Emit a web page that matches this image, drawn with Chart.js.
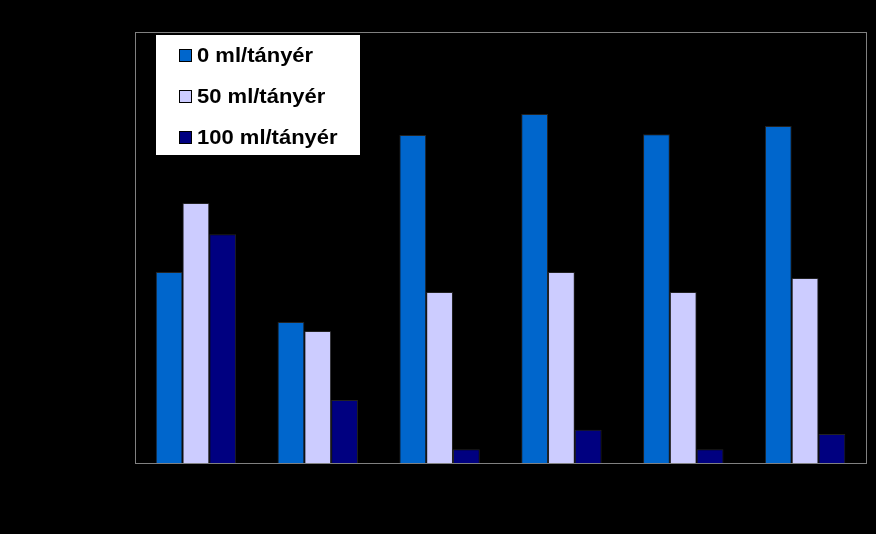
<!DOCTYPE html>
<html>
<head>
<meta charset="utf-8">
<script src="https://cdn.jsdelivr.net/npm/chart.js@4/dist/chart.umd.min.js"></script>
<style>
  html, body { margin: 0; padding: 0; background: #000; }
  #wrap { width: 876px; height: 534px; }
</style>
</head>
<body>
<div id="wrap"><canvas id="chart" width="876" height="534"></canvas></div>
<script>
// values (axis labels are black on black, so the scale is relative)
const categories = ['1', '2', '3', '4', '5', '6'];
const seriesNames = ['0 ml/tányér', '50 ml/tányér', '100 ml/tányér'];
const dose0 = [44.3, 32.7, 76.1, 81.0, 76.3, 78.2];
const dose50 = [60.3, 30.6, 39.7, 44.3, 39.7, 42.9];
const dose100 = [53.1, 14.6, 3.2, 7.7, 3.2, 6.7];
const colors = ['#0066CC', '#CCCCFF', '#000080'];

// plot frame + white legend box drawn inside the plot
const framePlugin = {
  id: 'frame',
  afterDraw(chart) {
    const ctx = chart.ctx;
    const a = chart.chartArea;
    ctx.save();
    ctx.strokeStyle = '#808080';
    ctx.lineWidth = 1;
    ctx.strokeRect(a.left + 0.5, a.top + 0.5, a.right - a.left, a.bottom - a.top);

    const bx = a.left + 20, by = a.top + 2, bw = 205, bh = 121;
    ctx.fillStyle = '#fff';
    ctx.fillRect(bx, by, bw, bh);
    ctx.strokeStyle = '#000';
    ctx.strokeRect(bx + 0.5, by + 0.5, bw, bh);

    ctx.font = 'bold 20px "Liberation Sans", Arial, sans-serif';
    ctx.textBaseline = 'middle';
    chart.data.datasets.forEach((ds, i) => {
      const y = by + 21 + i * 41;
      ctx.fillStyle = ds.backgroundColor;
      ctx.fillRect(bx + 24, y - 6, 13, 13);
      ctx.strokeStyle = '#000';
      ctx.strokeRect(bx + 24.5, y - 5.5, 12, 12);
      ctx.fillStyle = '#000';
      ctx.save();
      ctx.translate(bx + 42, y + 1);
      ctx.scale(1.1, 1);
      ctx.fillText(ds.label, 0, 0);
      ctx.restore();
    });
    ctx.restore();
  }
};

new Chart(document.getElementById('chart'), {
  type: 'bar',
  data: {
    labels: categories,
    datasets: [
      { label: seriesNames[0], data: dose0, backgroundColor: colors[0] },
      { label: seriesNames[1], data: dose50, backgroundColor: colors[1] },
      { label: seriesNames[2], data: dose100, backgroundColor: colors[2] }
    ]
  },
  options: {
    responsive: false,
    animation: false,
    layout: { padding: { left: 135, top: 32, right: 10, bottom: 71 } },
    datasets: {
      bar: { barPercentage: 1, categoryPercentage: 0.66, borderColor: '#222', borderWidth: 1 }
    },
    plugins: {
      legend: { display: false },
      tooltip: { enabled: false }
    },
    scales: {
      x: { display: false },
      y: { display: false, min: 0, max: 100 }
    }
  },
  plugins: [framePlugin]
});
</script>
</body>
</html>
